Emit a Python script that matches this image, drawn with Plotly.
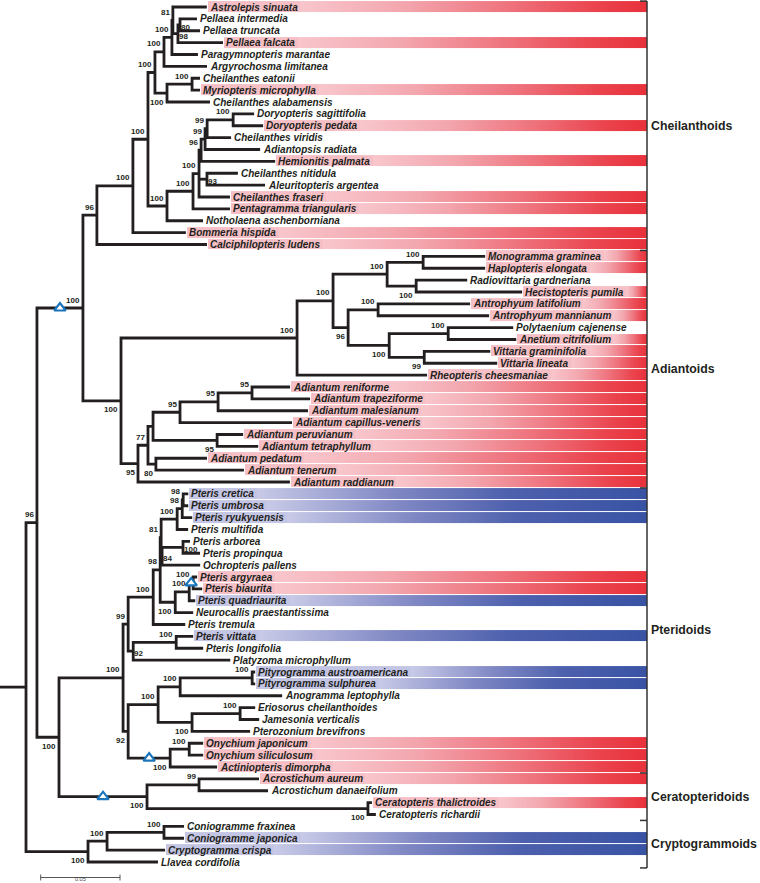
import re
import numpy as np
import plotly.graph_objects as go

# ---------------- data ----------------
# Phylogram (branch lengths in substitutions/site, internal labels = bootstrap support)
NEWICK = """
(
 (
  (
   (
    (
     (
      (
       (
        (
         (
          Astrolepis sinuata:0.0214,
          (
           (Pellaea intermedia:0.0107, Pellaea truncata:0.0126)80:0.0013,
           Pellaea falcata:0.0284
          )98:0.0032
         )81:0.0006,
         Paragymnopteris marantae:0.0164
        )100:0.0050,
        Argyrochosma limitanea:0.0271
       )100:0.0057,
       (
        (Cheilanthes eatonii:0.0050, Myriopteris microphylla:0.0050)100:0.0158,
        Cheilanthes alabamensis:0.0271
       )100:0.0076
      )100:0.0044,
      (
       (
        (
         (
          (
           (
            (Doryopteris sagittifolia:0.0132, Doryopteris pedata:0.0189)100:0.0164,
            Cheilanthes viridis:0.0151
           )99:0.0013,
           Adiantopsis radiata:0.0347
          )99:0.0025,
          Hemionitis palmata:0.0467
         )96:0.0013,
         (Cheilanthes nitidula:0.0195, Aleuritopteris argentea:0.0366)93:0.0050,
         Cheilanthes fraseri:0.0195
        )100:0.0038,
        Pentagramma triangularis:0.0233
       )100:0.0164,
       Notholaena aschenborniana:0.0227
      )100:0.0120
     )100:0.0095,
     Bommeria hispida:0.0334
    )100:0.0227,
    Calciphilopteris ludens:0.0694
   )96:0.0088,
   (
    (
     (
      (
       (Monogramma graminea:0.0391, Haplopteris elongata:0.0391)100:0.0227,
       (Radiovittaria gardneriana:0.0322, Hecistopteris pumila:0.0668)100:0.0183
      )100:0.0341,
      (
       (Antrophyum latifolium:0.0580, Antrophyum mannianum:0.0700)100:0.0189,
       (
        (Polytaenium cajenense:0.0410, Anetium citrifolium:0.0429)100:0.0372,
        (Vittaria graminifolia:0.0416, Vittaria lineata:0.0460)99:0.0221
       )100:0.0259
      )96:0.0095
     )100:0.0227,
     Rheopteris cheesmaniae:0.0820
    )100:0.1110,
    (
     (
      (
       (
        (
         (Adiantum reniforme:0.0240, Adiantum trapeziforme:0.0366)95:0.0214,
         Adiantum malesianum:0.0567
        )95:0.0240,
        Adiantum capillus-veneris:0.0706
       )95:0.0170,
       (Adiantum peruvianum:0.0164, Adiantum tetraphyllum:0.0259)95:0.0404
      ):0.0032,
      (Adiantum pedatum:0.0322, Adiantum tenerum:0.0555)80:0.0050
     )77:0.0063,
     Adiantum raddianum:0.0958
    )95:0.0107
   )100:0.0240
  )100:0.0290,
  (
   (
    (
     (
      (
       (
        (
         (
          (Pteris cretica:0.0032, Pteris umbrosa:0.0032)98:0.0006,
          Pteris ryukyuensis:0.0063
         )98:0.0032,
         Pteris multifida:0.0069
        )100:0.0101,
        (
         (Pteris arborea:0.0044, Pteris propinqua:0.0107)100:0.0132,
         Ochropteris pallens:0.0240
        )84:0.0006
       )81:0.0006,
       (
        (
         (Pteris argyraea:0.0025, Pteris biaurita:0.0057)100:0.0025,
         Pteris quadriaurita:0.0038
        )100:0.0088,
        Neurocallis praestantissima:0.0113
       )100:0.0095
      )98:0.0044,
      Pteris tremula:0.0202
     )100:0.0158,
     (
      (Pteris vittata:0.0107, Pteris longifolia:0.0170)100:0.0271,
      Platyzoma microphyllum:0.0612
     )92:0.0032
    )99:0.0032,
    (
     (
      (
       (Pityrogramma austroamericana:0.0019, Pityrogramma sulphurea:0.0019)100:0.0454,
       Anogramma leptophylla:0.0643
      )100:0.0139,
      (
       (Eriosorus cheilanthoides:0.0095, Jamesonia verticalis:0.0120)100:0.0303,
       Pterozonium brevifrons:0.0366
      )100:0.0214
     )100:0.0189,
     (
      (Onychium japonicum:0.0088, Onychium siliculosum:0.0088)100:0.0120,
      Actiniopteris dimorpha:0.0296
     )100:0.0265
    )92:0.0032
   )100:0.0404,
   (
    (Acrostichum aureum:0.0378, Acrostichum danaeifolium:0.0435)99:0.0328,
    (Ceratopteris thalictroides:0.0025, Ceratopteris richardii:0.0050)100:0.1393
   )100:0.0555
  )100:0.0139
 )96:0.0069,
 (
  (
   (Coniogramme fraxinea:0.0126, Coniogramme japonica:0.0126)100:0.0359,
   Cryptogramma crispa:0.0366
  )100:0.0120,
  Llavea cordifolia:0.0441
 )100:0.0391
):0.0164;
"""

RED_TAXA = [
    "Astrolepis sinuata", "Pellaea falcata", "Myriopteris microphylla", "Doryopteris pedata",
    "Hemionitis palmata", "Cheilanthes fraseri", "Pentagramma triangularis", "Bommeria hispida",
    "Calciphilopteris ludens", "Monogramma graminea", "Haplopteris elongata", "Hecistopteris pumila",
    "Antrophyum latifolium", "Antrophyum mannianum", "Anetium citrifolium", "Vittaria graminifolia",
    "Vittaria lineata", "Rheopteris cheesmaniae", "Adiantum reniforme", "Adiantum trapeziforme",
    "Adiantum malesianum", "Adiantum capillus-veneris", "Adiantum peruvianum", "Adiantum tetraphyllum",
    "Adiantum pedatum", "Adiantum tenerum", "Adiantum raddianum", "Pteris argyraea", "Pteris biaurita",
    "Onychium japonicum", "Onychium siliculosum", "Actiniopteris dimorpha", "Acrostichum aureum",
    "Ceratopteris thalictroides",
]
BLUE_TAXA = [
    "Pteris cretica", "Pteris umbrosa", "Pteris ryukyuensis", "Pteris quadriaurita", "Pteris vittata",
    "Pityrogramma austroamericana", "Pityrogramma sulphurea", "Coniogramme japonica", "Cryptogramma crispa",
]
CLADE_NAMES = ["Cheilanthoids", "Adiantoids", "Pteridoids", "Ceratopteridoids", "Cryptogrammoids"]
CLADE_FIRST = ["Astrolepis sinuata", "Monogramma graminea", "Pteris cretica", "Acrostichum aureum", "Coniogramme fraxinea"]
CLADE_LAST = ["Calciphilopteris ludens", "Adiantum raddianum", "Actiniopteris dimorpha", "Ceratopteris richardii", "Llavea cordifolia"]
# clades (first leaf, last leaf) marked with a triangle on their stem
TRIANGLE_NODES = [
    ("Astrolepis sinuata", "Adiantum raddianum"),
    ("Pteris argyraea", "Pteris biaurita"),
    ("Onychium japonicum", "Actiniopteris dimorpha"),
    ("Acrostichum aureum", "Ceratopteris richardii"),
]
SCALE_BAR = 0.05
SCALE_BAR_LABEL = "0.05"

# ---------------- style ----------------
W, H = 760, 883
PX = 0.05 / 79.3          # data units per pixel
ROW0, ROW_H = 7.0, 11.875
BAR_END_PX = 647
LINE_C = "#231f20"
LABEL_FONT = "Liberation Sans, Arial, sans-serif"
NUM_FONT = "Liberation Sans, Arial, sans-serif"
LEAF_SIZE = 10
SUPPORT_BELOW = {
    ("Cheilanthes eatonii", "Cheilanthes alabamensis"), ("Monogramma graminea", "Adiantum raddianum"),
    ("Radiovittaria gardneriana", "Hecistopteris pumila"), ("Antrophyum latifolium", "Vittaria lineata"),
    ("Polytaenium cajenense", "Vittaria lineata"), ("Vittaria graminifolia", "Vittaria lineata"),
    ("Adiantum reniforme", "Adiantum raddianum"), ("Adiantum peruvianum", "Adiantum tetraphyllum"),
    ("Adiantum pedatum", "Adiantum tenerum"), ("Pteris argyraea", "Neurocallis praestantissima"),
    ("Pityrogramma austroamericana", "Actiniopteris dimorpha"), ("Eriosorus cheilanthoides", "Pterozonium brevifrons"),
    ("Onychium japonicum", "Actiniopteris dimorpha"), ("Acrostichum aureum", "Ceratopteris richardii"),
    ("Ceratopteris thalictroides", "Ceratopteris richardii"), ("Coniogramme fraxinea", "Llavea cordifolia"),
    ("Pteris cretica", "Ceratopteris richardii"),
}
SUPPORT_RIGHT = {
    ("Pellaea intermedia", "Pellaea truncata"), ("Pellaea intermedia", "Pellaea falcata"),
    ("Cheilanthes nitidula", "Aleuritopteris argentea"), ("Pteris arborea", "Pteris propinqua"),
    ("Pteris arborea", "Ochropteris pallens"), ("Pteris vittata", "Platyzoma microphyllum"),
}
AB = {' ': 278, '-': 333, 'a': 556, 'b': 611, 'c': 556, 'd': 611, 'e': 556, 'f': 333, 'g': 611, 'h': 611,
      'i': 278, 'j': 278, 'k': 556, 'l': 278, 'm': 889, 'n': 611, 'o': 611, 'p': 611, 'q': 611, 'r': 389,
      's': 556, 't': 333, 'u': 611, 'v': 556, 'w': 778, 'x': 556, 'y': 556, 'z': 500,
      'A': 722, 'B': 722, 'C': 722, 'D': 722, 'E': 667, 'F': 611, 'G': 778, 'H': 722, 'I': 278, 'J': 556,
      'K': 722, 'L': 611, 'M': 833, 'N': 722, 'O': 778, 'P': 667, 'Q': 778, 'R': 722, 'S': 667, 'T': 611,
      'U': 722, 'V': 667, 'W': 944, 'X': 667, 'Y': 667, 'Z': 611}


def text_px(s, size):
    return sum(AB.get(c, 556) for c in s) / 1000.0 * size


def px2x(p):
    return p * PX


def py2y(p):
    return (p - ROW0) / ROW_H


# ---------------- parse & layout ----------------
def parse(s):
    s = re.sub(r"\s*([(),:;])\s*", r"\1", s.strip())
    pos = 0

    def node():
        nonlocal pos
        n = {"kids": [], "name": "", "len": 0.0}
        if s[pos] == "(":
            pos += 1
            while True:
                n["kids"].append(node())
                if s[pos] == ",":
                    pos += 1
                    continue
                pos += 1
                break
        st = pos
        while pos < len(s) and s[pos] not in ":,);":
            pos += 1
        n["name"] = s[st:pos].strip()
        if pos < len(s) and s[pos] == ":":
            pos += 1
            st = pos
            while pos < len(s) and s[pos] not in ",);":
                pos += 1
            n["len"] = float(s[st:pos])
        return n
    return node()


tree = parse(NEWICK)
leaves, internals = [], []


def layout(n, x0):
    n["px"] = x0
    n["x"] = x0 + n["len"]
    if n["kids"]:
        for k in n["kids"]:
            layout(k, n["x"])
        n["y"] = (n["kids"][0]["y"] + n["kids"][-1]["y"]) / 2
        n["first"], n["last"] = n["kids"][0]["first"], n["kids"][-1]["last"]
        internals.append(n)
    else:
        n["y"] = len(leaves)
        n["first"] = n["last"] = n["name"]
        leaves.append(n)


layout(tree, 0.0)
N = len(leaves)
leaf_idx = {l["name"]: i for i, l in enumerate(leaves)}

# branch lines
lx, ly = [0.0, tree["x"], None], [tree["y"], tree["y"], None]


def draw(n):
    kids = n["kids"]
    if not kids:
        return
    a, b = kids[0], kids[-1]
    lx.extend([a["x"], n["x"], n["x"], b["x"], None])
    ly.extend([a["y"], a["y"], b["y"], b["y"], None])
    for k in kids[1:-1]:
        lx.extend([n["x"], k["x"], None])
        ly.extend([k["y"], k["y"], None])
    for k in kids:
        draw(k)


draw(tree)

# ---------------- gradient highlight bands ----------------
cols = np.arange(150, BAR_END_PX) + 0.5
xc = px2x(cols)


def band(taxa):
    z = np.full((N, len(cols)), np.nan)
    for name in taxa:
        lf = leaves[leaf_idx[name]]
        tip = lf["x"] / PX
        b0 = tip + 0.8
        b1 = tip + 3 + text_px(name, LEAF_SIZE) + 3
        row = np.where(cols < b0, np.nan,
                       np.where(cols < b1, -0.1, (cols - b1) / (BAR_END_PX - b1)))
        z[lf["y"]] = row
    return z


def cscale(box, stops):
    lo = 0.1 / 1.1
    cs = [[0.0, box], [lo - 0.001, box]]
    for s, c in stops:
        cs.append([lo + (1 - lo) * s, c])
    return cs


red_cs = cscale("#f6bfc6", [(0, "#f8c6cc"), (0.3, "#f3a6ae"), (0.6, "#ee737d"), (0.85, "#ea444e"), (1, "#e8313b")])
blue_cs = cscale("#c3c5e5", [(0, "#c8cae7"), (0.35, "#8088c4"), (0.65, "#4d60ad"), (1, "#3953a4")])

fig = go.Figure()
for z, cs in ((band(RED_TAXA), red_cs), (band(BLUE_TAXA), blue_cs)):
    fig.add_trace(go.Heatmap(x=xc, y=np.arange(N), z=z, colorscale=cs, zmin=-0.1, zmax=1,
                             showscale=False, ygap=1, hoverinfo="skip"))

fig.add_trace(go.Scatter(x=lx, y=ly, mode="lines", line=dict(color=LINE_C, width=2.8),
                         hoverinfo="skip", showlegend=False))

tri = [n for n in internals if (n["first"], n["last"]) in TRIANGLE_NODES]
fig.add_trace(go.Scatter(x=[(n["px"] + n["x"]) / 2 for n in tri], y=[n["y"] for n in tri],
                         mode="markers", hoverinfo="skip", showlegend=False,
                         marker=dict(symbol="triangle-up", size=10, color="white",
                                     line=dict(color="#1b75bb", width=2.2))))

ann = []
for lf in leaves:
    ann.append(dict(x=lf["x"], y=lf["y"], text=lf["name"], showarrow=False, xanchor="left",
                    yanchor="middle", xshift=3, borderpad=0, borderwidth=0,
                    font=dict(family=LABEL_FONT, size=LEAF_SIZE, color=LINE_C, weight="bold", style="italic")))

for n in internals:
    if n is tree or not n["name"]:
        continue
    key = (n["first"], n["last"])
    if key in SUPPORT_RIGHT:
        xa, xs, ys = "left", 1, -2.5
    elif key in SUPPORT_BELOW:
        xa, xs, ys = "right", -3, -9
    else:
        xa, xs, ys = "right", -3, 8
    ann.append(dict(x=n["x"], y=n["y"], text=n["name"], showarrow=False, xanchor=xa, yanchor="middle",
                    xshift=xs, yshift=ys, borderpad=0, borderwidth=0,
                    font=dict(family=NUM_FONT, size=8, color=LINE_C, weight="bold")))

shapes = []
bx = px2x(BAR_END_PX)
tops = [leaf_idx[f] - 0.5 for f in CLADE_FIRST]
bots = [leaf_idx[l] + 0.5 for l in CLADE_LAST]
shapes.append(dict(type="line", x0=bx, x1=bx, y0=min(tops), y1=max(bots), xref="x", yref="y",
                   line=dict(color="#333333", width=1.5)))
for yb in sorted(set(tops + bots)):
    shapes.append(dict(type="line", x0=bx - px2x(7), x1=bx, y0=yb, y1=yb, xref="x", yref="y",
                       line=dict(color="#333333", width=1.5)))
for name, t, b in zip(CLADE_NAMES, tops, bots):
    ann.append(dict(x=bx, y=(t + b) / 2, text=name, showarrow=False, xanchor="left", yanchor="middle",
                    xshift=4, borderpad=0, borderwidth=0,
                    font=dict(family=LABEL_FONT, size=12.3, color=LINE_C, weight="bold")))

# scale bar
sx0 = px2x(40.7)
sy = py2y(877.5)
shapes.append(dict(type="line", x0=sx0, x1=sx0 + SCALE_BAR, y0=sy, y1=sy, xref="x", yref="y",
                   line=dict(color="#555555", width=1)))
for xx in (sx0, sx0 + SCALE_BAR):
    shapes.append(dict(type="line", x0=xx, x1=xx, y0=sy - 0.25, y1=sy + 0.25, xref="x", yref="y",
                       line=dict(color="#555555", width=1)))
ann.append(dict(x=sx0 + SCALE_BAR / 2, y=py2y(879), text=SCALE_BAR_LABEL, showarrow=False,
                xanchor="center", yanchor="middle", borderpad=0, borderwidth=0,
                font=dict(family=NUM_FONT, size=5.5, color="#444444")))

fig.update_layout(
    width=W, height=H, margin=dict(l=0, r=0, t=0, b=0),
    paper_bgcolor="white", plot_bgcolor="white", showlegend=False,
    xaxis=dict(range=[0, W * PX], visible=False, fixedrange=True),
    yaxis=dict(range=[py2y(H), py2y(0)], visible=False, fixedrange=True),
    annotations=ann, shapes=shapes,
)
fig.write_html("out.html", config={"displayModeBar": False},
               post_script="document.body.style.margin='0';document.body.style.overflow='hidden';")
